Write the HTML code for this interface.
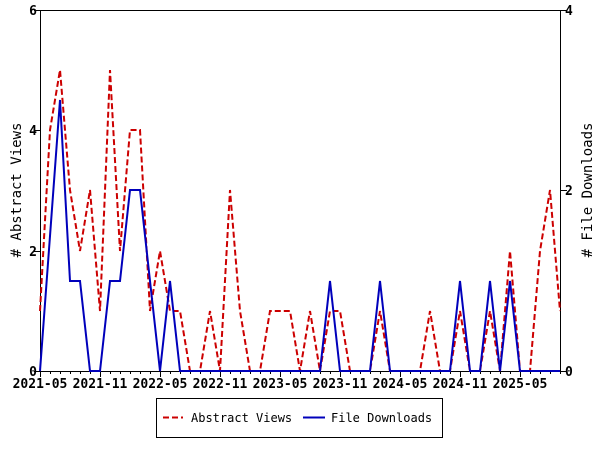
<!DOCTYPE html>
<html><head><meta charset="utf-8"><style>html,body{margin:0;padding:0;background:#fff}</style></head><body>
<svg width="600" height="450" xmlns="http://www.w3.org/2000/svg" font-family="'DejaVu Sans Mono','Liberation Mono',monospace" font-weight="bold">
<rect width="600" height="450" fill="#fff"/>
<g stroke="#000" stroke-width="1" fill="none">
<line x1="40.5" y1="10" x2="40.5" y2="371"/>
<line x1="560.5" y1="10" x2="560.5" y2="371"/>
<line x1="40" y1="10.5" x2="560" y2="10.5"/>
<line x1="40" y1="371.5" x2="560" y2="371.5"/>
<path d="M34 371.5h6M34 251.5h6M34 130.5h6M34 10.5h6M561 371.5h6M561 190.5h6M561 10.5h6"/>
<path d="M40.5 371v6M50.5 371v3M60.5 371v3M70.5 371v3M80.5 371v3M90.5 371v3M100.5 371v6M110.5 371v3M120.5 371v3M130.5 371v3M140.5 371v3M150.5 371v3M160.5 371v6M170.5 371v3M180.5 371v3M190.5 371v3M200.5 371v3M210.5 371v3M220.5 371v6M230.5 371v3M240.5 371v3M250.5 371v3M260.5 371v3M270.5 371v3M280.5 371v6M290.5 371v3M300.5 371v3M310.5 371v3M320.5 371v3M330.5 371v3M340.5 371v6M350.5 371v3M360.5 371v3M370.5 371v3M380.5 371v3M390.5 371v3M400.5 371v6M410.5 371v3M420.5 371v3M430.5 371v3M440.5 371v3M450.5 371v3M460.5 371v6M470.5 371v3M480.5 371v3M490.5 371v3M500.5 371v3M510.5 371v3M520.5 371v6M530.5 371v3M540.5 371v3M550.5 371v3M560.5 371v3"/>
</g>
<g font-size="13" fill="#000">
<text x="37" y="376" text-anchor="end">0</text>
<text x="37" y="256" text-anchor="end">2</text>
<text x="37" y="135" text-anchor="end">4</text>
<text x="37" y="15" text-anchor="end">6</text>
<text x="565" y="376">0</text>
<text x="565" y="195">2</text>
<text x="565" y="15">4</text>
</g>
<g font-size="13" fill="#000" text-anchor="middle">
<text x="40" y="388">2021-05</text>
<text x="100" y="388">2021-11</text>
<text x="160" y="388">2022-05</text>
<text x="220" y="388">2022-11</text>
<text x="280" y="388">2023-05</text>
<text x="340" y="388">2023-11</text>
<text x="400" y="388">2024-05</text>
<text x="460" y="388">2024-11</text>
<text x="520" y="388">2025-05</text>
</g>
<text transform="translate(21,190) rotate(-90)" text-anchor="middle" font-size="14" font-weight="normal"># Abstract Views</text>
<text transform="translate(592,190) rotate(-90)" text-anchor="middle" font-size="14" font-weight="normal"># File Downloads</text>
<polyline fill="none" stroke="#cc0000" stroke-width="2" stroke-dasharray="6,3" points="40,311 50,130 60,70 70,190 80,251 90,190 100,311 110,70 120,251 130,130 140,130 150,311 160,251 170,311 180,311 190,371 200,371 210,311 220,371 230,190 240,311 250,371 260,371 270,311 280,311 290,311 300,371 310,311 320,371 330,311 340,311 350,371 360,371 370,371 380,311 390,371 400,371 410,371 420,371 430,311 440,371 450,371 460,311 470,371 480,371 490,311 500,371 510,251 520,371 530,371 540,251 550,190 560,311"/>
<polyline fill="none" stroke="#0000bb" stroke-width="2" points="40,371 50,236 60,100 70,281 80,281 90,371 100,371 110,281 120,281 130,190 140,190 150,281 160,371 170,281 180,371 320,371 330,281 340,371 370,371 380,281 390,371 450,371 460,281 470,371 480,371 490,281 500,371 510,281 520,371 560,371"/>
<rect x="156.5" y="398.5" width="286" height="39" fill="#fff" stroke="#000"/>
<line x1="163" y1="417.5" x2="183" y2="417.5" stroke="#cc0000" stroke-width="2" stroke-dasharray="6,3"/>
<line x1="303" y1="417.5" x2="325" y2="417.5" stroke="#0000bb" stroke-width="2"/>
<g font-size="12" fill="#000" font-weight="normal">
<text x="191" y="422">Abstract Views</text>
<text x="331" y="422">File Downloads</text>
</g>
</svg>
</body></html>
